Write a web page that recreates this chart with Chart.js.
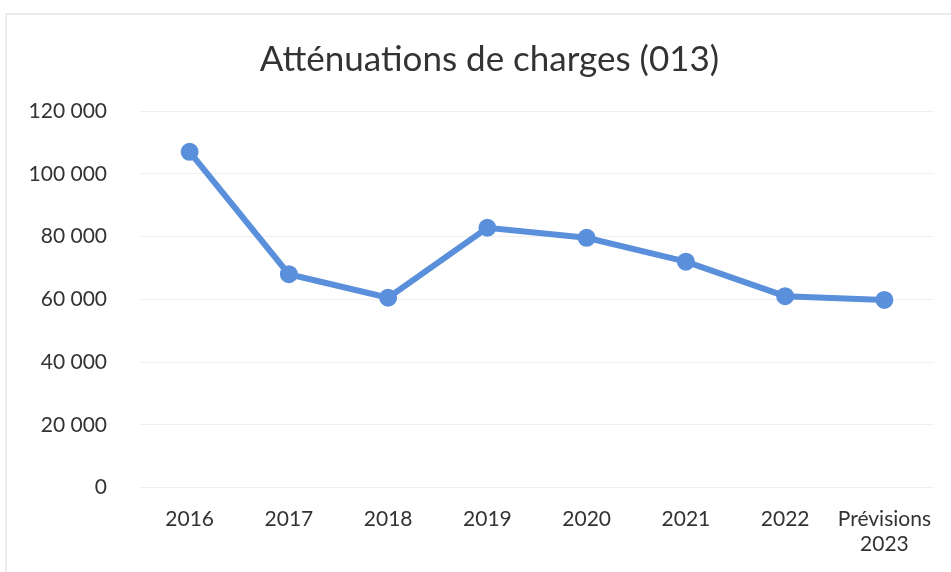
<!DOCTYPE html>
<html>
<head>
<meta charset="utf-8">
<script src="https://cdn.jsdelivr.net/npm/chart.js@4/dist/chart.umd.min.js"></script>
<style>
html,body{margin:0;padding:0;background:#fff;}
#wrap{position:relative;width:951px;height:572px;overflow:hidden;}
#frame{position:absolute;left:5px;top:13px;width:960px;height:580px;border-left:2px solid #ececec;border-top:2px solid #ececec;box-sizing:border-box;}
canvas{position:absolute;left:0;top:0;}
</style>
</head>
<body>
<div id="wrap">
<div id="frame"></div>
<canvas id="c" width="951" height="572"></canvas>
</div>
<script>
const categories = ['2016','2017','2018','2019','2020','2021','2022',['Prévisions','2023']];
const values = [107000, 68000, 60500, 82800, 79600, 72000, 61000, 59800];
const yTicks = {min: 0, max: 120000, step: 20000};
const titleText = 'Atténuations de charges (013)';

function fmt(v){ return String(v).replace(/\B(?=(\d{3})+(?!\d))/g, ' '); }

new Chart(document.getElementById('c'), {
  type: 'line',
  data: {
    labels: categories,
    datasets: [{
      data: values,
      borderColor: '#5A8FDB',
      backgroundColor: '#5A8FDB',
      borderWidth: 6,
      pointRadius: 6,
      pointBackgroundColor: '#5A8FDB',
      pointBorderColor: '#5A8FDB',
      tension: 0
    }]
  },
  options: {
    responsive: false,
    animation: false,
    layout: {padding: {left: 28, right: 0, top: 39, bottom: 4}},
    plugins: {
      legend: {display: false},
      tooltip: {enabled: false},
      title: {
        display: true,
        text: titleText,
        color: '#333',
        font: {family: 'Lato', size: 35, weight: 'normal'},
        padding: {top: 0, bottom: 30}
      }
    },
    scales: {
      x: {
        offset: true,
        grid: {display: false},
        border: {display: false},
        ticks: {color: '#333', font: {family: 'Lato', size: 21}, maxRotation: 0, autoSkip: false, padding: 11}
      },
      y: {
        min: yTicks.min, max: yTicks.max,
        grid: {color: '#f0f0f0', lineWidth: 1, drawTicks: false},
        border: {display: false},
        ticks: {stepSize: yTicks.step, color: '#333', font: {family: 'Lato', size: 21}, padding: 33,
          callback: v => fmt(v)},
        afterFit: s => { s.width = 112; }
      },
      yRight: {
        position: 'right',
        display: true,
        grid: {display: false, drawTicks: false},
        border: {display: false},
        ticks: {display: false},
        afterFit: s => { s.width = 17; }
      }
    }
  }
});
</script>
</body>
</html>
